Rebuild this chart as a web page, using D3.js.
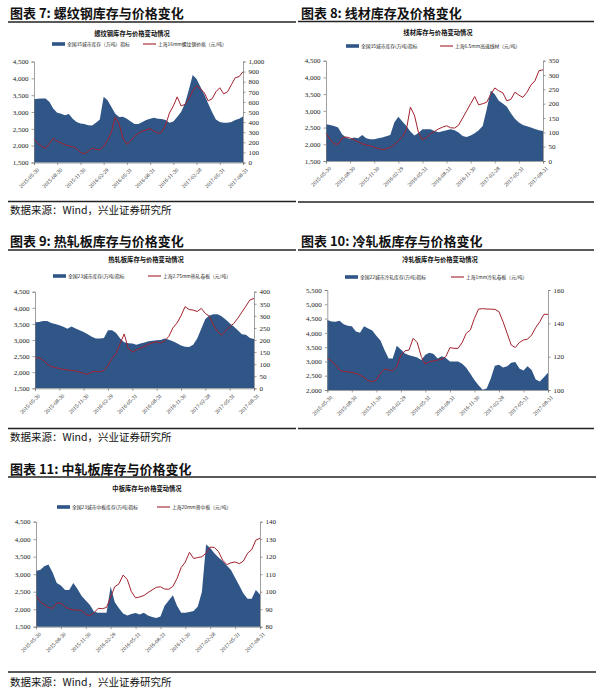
<!DOCTYPE html>
<html><head><meta charset="utf-8">
<script src="https://cdn.jsdelivr.net/npm/d3@7"></script>
<style>body{margin:0;background:#fff}svg{display:block}</style>
</head><body><svg id="c" width="600" height="690"></svg>
<script>
// x index: half-month steps from 2015-05-30 (0) to 2017-08-31 (27 months)
const months = d3.range(0, 27.5, 0.5);
const tickMonths = [0,3,6,9,12,15,18,21,24,27];
const tickLabels = ["2015-05-30","2015-08-30","2015-11-30","2016-02-29","2016-05-31","2016-08-31","2016-11-30","2017-02-28","2017-05-31","2017-08-31"];

// 图表7 螺纹钢
const stock7 = [3380,3390,3400,3400,3300,3100,2980,2950,2900,2940, 2800,2700,2660,2640,2610,2600,2680,2780,3450,3350, 3150,2950,2850,2860,2800,2720,2640,2640,2700,2760, 2800,2830,2800,2790,2760,2680,2720,2850,3000,3250, 3650,4100,3980,3750,3520,3250,3000,2780,2700,2680, 2680,2700,2760,2800,2870];
const price7 = [230,190,160,140,190,240,210,195,175,165, 155,140,100,86,110,140,130,125,160,220, 300,450,380,240,180,215,260,290,310,323, 335,310,290,300,370,490,560,650,560,575, 630,710,760,730,690,610,630,700,740,680, 700,770,840,850,900];
// 图表8 线材
const stock8 = [2600,2580,2550,2500,2300,2200,2160,2200,2180,2280, 2180,2150,2150,2180,2200,2240,2280,2650,2820,2680, 2550,2380,2260,2340,2450,2450,2450,2400,2360,2390, 2420,2450,2420,2350,2250,2220,2260,2330,2420,2550, 3050,3600,3500,3300,3220,3120,2930,2760,2650,2580, 2540,2500,2460,2420,2400];
const price8 = [97,76,60,58,80,84,80,74,67,60, 56,53,48,44,40,42,47,57,70,85, 109,188,160,100,74,82,95,103,112,118, 123,116,115,125,150,175,200,225,196,200, 205,232,255,245,238,210,215,240,230,222, 240,265,280,315,318];
// 图表9 热轧板
const stock9 = [3550,3560,3590,3590,3530,3500,3460,3410,3350,3420, 3360,3300,3250,3180,3100,3050,3050,3060,3300,3300, 3220,3050,2930,2900,2890,2850,2890,2920,2960,2980, 2990,3000,3050,3010,2960,2900,2830,2790,2780,2850, 3050,3350,3650,3760,3800,3800,3740,3640,3520,3420, 3300,3180,3160,3060,3030];
const price9 = [124,127,117,100,90,86,82,78,76,74, 72,67,62,58,68,70,68,74,95,124, 145,186,225,165,150,159,166,174,183,189, 193,188,196,215,250,270,300,338,326,324, 318,331,310,298,262,235,220,238,255,268, 290,315,340,366,372];
// 图表10 冷轧板
const stock10 = [4450,4400,4390,4420,4300,4250,4230,4050,4000,4230, 4150,4080,3900,3730,3400,3100,3100,3550,3420,3280, 3220,3180,3140,3050,3230,3300,3260,3100,3180,3120, 3000,3000,3000,2920,2780,2570,2350,2170,2010,2050, 2400,2850,2880,2790,2830,2950,2980,2750,2680,2830, 2700,2370,2300,2450,2600];
const price10 = [119,117.5,115,112,111,111,110.5,110,109,107.5, 105.5,105,106,110,112.5,112,111.5,114,121,123.5, 124,131,128.5,120,115.5,117,117.5,118,118.5,120, 125.4,125,125,128.5,134,136,143,148.5,148.8,148.6, 148.5,148.4,147,141,134,127,125.5,128.5,130,130.5, 133,137.5,141,145.4,145.4];
// 图表11 中板
const stock11 = [3100,3120,3230,3280,3050,2750,2680,2550,2550,2750, 2580,2380,2250,2120,1930,1900,1900,1900,2650,2200, 2030,1880,1820,1860,1890,1850,1900,1820,1780,1750, 1790,2100,2250,2400,2100,1900,1900,1920,1950,2080, 2500,3850,3750,3600,3480,3380,3250,3120,2900,2680, 2450,2300,2300,2550,2420];
const price11 = [98,94.3,92.5,91,90.5,93.5,93.5,91.5,90.2,89.6, 89.5,89.3,87,86.3,88,90.5,90.3,91,97,102.9, 104.5,109.5,107,100,96.5,97,97.8,99.5,101,102.5, 102.8,101.5,101.4,103,107.6,113.8,117,122.5,119,119.5, 120,122,125.5,125.3,122.9,118,115.5,116.5,117,116, 117.5,122,124,129.5,130.5];

const BLUE = "#2f5687", RED = "#a3202e";
const svg = d3.select("#c");
const CJK = "'Noto Sans CJK SC', sans-serif";
const SERIF = "'Liberation Serif', serif";

const charts = [
 {stock:stock7, price:price7, title:"图表 7:  螺纹钢库存与价格变化", inner:"螺纹钢库存与价格变动情况",
  legA:"全国35城市库存（万吨）指标", legB:"上海16mm螺纹钢价格（元/吨）",
  x0:34, x1:243, yTop:61.5, yBot:162.5, left:[1500,4500], lstep:500, right:[0,1000], rstep:100,
  tx:10, ty:18, ulY:22, ulX:[8,296], innerX:132, innerY:35.5, legY:44, legAx:52, legBx:143,
  blY:201.5, blX:[8,296], src:214},
 {stock:stock8, price:price8, title:"图表 8:  线材库存及价格变化", inner:"线材库存与价格变动情况",
  legA:"全国35城市库存(万吨)指标", legB:"上海6.5mm高速线材（元/吨）",
  x0:326, x1:543, yTop:60.7, yBot:161, left:[1500,4500], lstep:500, right:[0,350], rstep:50,
  tx:301, ty:18, ulY:21.5, ulX:[298,594], innerX:438, innerY:34.5, legY:46, legAx:346, legBx:440,
  blY:202, blX:[298,594], src:null},
 {stock:stock9, price:price9, title:"图表 9:  热轧板库存与价格变化", inner:"热轧板库存与价格变动情况",
  legA:"全国23城市库存(万吨)指标", legB:"上海2.75mm热轧卷板（元/吨）",
  x0:35, x1:254, yTop:291.7, yBot:388.3, left:[1500,4500], lstep:500, right:[0,400], rstep:50,
  tx:10, ty:246, ulY:250, ulX:[8,296], innerX:146, innerY:261.5, legY:276, legAx:53, legBx:148,
  blY:428.5, blX:[8,296], src:441},
 {stock:stock10, price:price10, title:"图表 10:  冷轧板库存与价格变化", inner:"冷轧板库存与价格变动情况",
  legA:"全国22城市冷轧库存(万吨)指标", legB:"上海1mm冷轧卷板（元/吨）",
  x0:327.3, x1:548, yTop:290, yBot:390, left:[2000,5500], lstep:500, right:[100,160], rstep:20,
  tx:301, ty:246, ulY:250, ulX:[298,594], innerX:440, innerY:261.5, legY:277, legAx:345, legBx:451,
  blY:428.5, blX:[298,594], src:null},
 {stock:stock11, price:price11, title:"图表 11:  中轧板库存与价格变化", inner:"中板库存与价格变动情况",
  legA:"全国23城市中板库存(万吨)指标", legB:"上海20mm普中板（元/吨）",
  x0:36, x1:260, yTop:521.7, yBot:626.7, left:[1500,4500], lstep:500, right:[80,140], rstep:10,
  tx:10, ty:474, ulY:477, ulX:[8,596], innerX:147, innerY:490.5, legY:507, legAx:57, legBx:157,
  blY:672, blX:[8,596], src:686}
];

function draw(c) {
  const g = svg.append("g");
  const x = d3.scaleLinear().domain([0,27]).range([c.x0, c.x1]);
  const yL = d3.scaleLinear().domain(c.left).range([c.yBot, c.yTop]);
  const yR = d3.scaleLinear().domain(c.right).range([c.yBot, c.yTop]);

  // headings
  g.append("text").attr("x", c.tx).attr("y", c.ty).text(c.title)
    .attr("font-family", CJK).attr("font-weight", "bold").attr("font-size", 13).attr("fill", "#111");
  g.append("line").attr("x1", c.ulX[0]).attr("x2", c.ulX[1]).attr("y1", c.ulY).attr("y2", c.ulY)
    .attr("stroke", "#222").attr("stroke-width", 1.4);
  g.append("line").attr("x1", c.blX[0]).attr("x2", c.blX[1]).attr("y1", c.blY).attr("y2", c.blY)
    .attr("stroke", "#222").attr("stroke-width", 1.4);
  if (c.src) g.append("text").attr("x", 10).attr("y", c.src).text("数据来源：Wind，兴业证券研究所")
    .attr("font-family", CJK).attr("font-size", 10.5).attr("fill", "#111");
  g.append("text").attr("x", c.innerX).attr("y", c.innerY).attr("text-anchor", "middle").text(c.inner)
    .attr("font-family", CJK).attr("font-weight", "bold").attr("font-size", 6.3).attr("fill", "#111");

  // legend
  g.append("rect").attr("x", c.legAx).attr("y", c.legY - 1.8).attr("width", 13).attr("height", 3.6).attr("fill", BLUE);
  g.append("text").attr("x", c.legAx + 15).attr("y", c.legY + 1.7).text(c.legA)
    .attr("font-family", CJK).attr("font-size", 4.8).attr("fill", "#222");
  g.append("line").attr("x1", c.legBx).attr("x2", c.legBx + 13).attr("y1", c.legY).attr("y2", c.legY)
    .attr("stroke", RED).attr("stroke-width", 1.1);
  g.append("text").attr("x", c.legBx + 15).attr("y", c.legY + 1.7).text(c.legB)
    .attr("font-family", CJK).attr("font-size", 4.8).attr("fill", "#222");

  // marks
  g.append("path").datum(c.stock)
    .attr("d", d3.area().x((d,i) => x(months[i])).y0(c.yBot).y1(d => yL(d)))
    .attr("fill", BLUE);
  g.append("path").datum(c.price)
    .attr("d", d3.line().x((d,i) => x(months[i])).y(d => yR(d)))
    .attr("fill", "none").attr("stroke", RED).attr("stroke-width", 1);

  // axes
  const fmt = d3.format(",");
  const styleAxis = sel => {
    sel.selectAll("path,line").attr("stroke", "#777").attr("stroke-width", 0.7);
    sel.selectAll("text").attr("font-family", SERIF).attr("fill", "#222");
  };
  g.append("g").attr("transform", `translate(${c.x0},0)`)
    .call(d3.axisLeft(yL).tickValues(d3.range(c.left[0], c.left[1] + 1, c.lstep)).tickFormat(fmt).tickSizeOuter(0).tickSize(2.5).tickPadding(3))
    .call(styleAxis).selectAll("text").attr("font-size", 7);
  g.append("g").attr("transform", `translate(${c.x1},0)`)
    .call(d3.axisRight(yR).tickValues(d3.range(c.right[0], c.right[1] + 0.001, c.rstep)).tickFormat(fmt).tickSizeOuter(0).tickSize(2.5).tickPadding(3))
    .call(styleAxis).selectAll("text").attr("font-size", 7);
  const bx = g.append("g").attr("transform", `translate(0,${c.yBot})`)
    .call(d3.axisBottom(x).tickValues(tickMonths).tickFormat((d,i) => tickLabels[i]).tickSizeOuter(0).tickSize(2.5))
    .call(styleAxis);
  bx.selectAll("text").attr("font-size", 5.5).attr("text-anchor", "end")
    .attr("dx", 0).attr("dy", 0).attr("transform", "translate(1,4) rotate(-45)");
}
charts.forEach(draw);
</script></body></html>
